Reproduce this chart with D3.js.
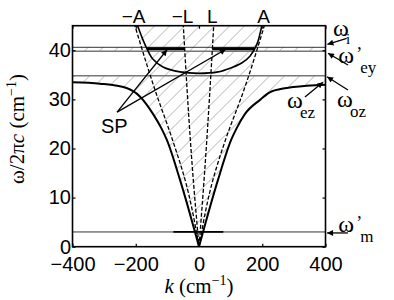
<!DOCTYPE html>
<html>
<head>
<meta charset="utf-8">
<script src="https://cdn.jsdelivr.net/npm/d3@7"></script>
<style>
  body { margin: 0; background: #fff; }
</style>
</head>
<body>
<div id="chart"></div>
<script>
// axes
const kTicks = [-400, -200, 0, 200, 400]
const wTicks = [0, 10, 20, 30, 40]

// lower polariton branch, left and right halves (k in cm-1, w in cm-1)
const lowLeftK = [-400, -313, -229, -187, -145, -118, -102, -60, 0]
const lowLeftW = [33.5, 33.2, 32.3, 30.6, 27.0, 24.0, 21.8, 13.6, 0]
const lowRightK = [0, 60, 102, 118, 145, 193, 229, 298, 400]
const lowRightW = [0, 13.6, 21.8, 24.0, 27.0, 29.9, 31.6, 32.5, 33.0]

// upper branch (U shape)
const upK = [-197, -171, -146, -114, -60, 0, 60, 100, 135, 161, 183, 200]
const upW = [45.5, 41.2, 38.2, 36.6, 35.6, 35.3, 35.6, 36.4, 37.4, 38.8, 41.2, 45.5]

// A and L lines (dashed)
const aLeftK = [-205, -139, -84, -44, 0]
const aRightK = [0, 44, 84, 142, 209]
const aW = [45.5, 31.9, 21.8, 13.6, 0]
const aWr = [0, 13.6, 21.8, 31.9, 45.5]
const lLeftK = [-50, -18, 0]
const lRightK = [0, 16, 47]
const lW = [45.5, 13.6, 0]
const lWr = [0, 13.6, 45.5]

// horizontal levels
const wI = 40.6, wEy = 39.8, wOz = 34.8, wM = 3.0
const spW = 40.3
const spSegK = [[-164, -44], [42, 174]]
const mSegK = [-81, 77]

const topLabels = ["−A", "−L", "L", "A"]
const topLabelK = [-207, -52, 42, 204]

const margin = {top: 25.7, right: 68.5, bottom: 53.3, left: 72.5}
const W = 394, H = 300
const width = W - margin.left - margin.right
const height = H - margin.top - margin.bottom

const svg = d3.select("#chart").append("svg")
    .attr("width", W)
    .attr("height", H)
    .style("font-family", "'Liberation Sans', Arial, sans-serif")

const x = d3.scaleLinear().domain([-400, 400]).range([margin.left, margin.left + width])
const y = d3.scaleLinear().domain([0, 45]).range([margin.top + height, margin.top])

const defs = svg.append("defs")
defs.append("clipPath").attr("id", "plotclip")
  .append("rect")
    .attr("x", margin.left).attr("y", margin.top)
    .attr("width", width).attr("height", height)

const pat = defs.append("pattern")
    .attr("id", "hatch")
    .attr("patternUnits", "userSpaceOnUse")
    .attr("width", 10.6).attr("height", 10.6)
    .attr("patternTransform", "rotate(45)")
pat.append("line")
    .attr("x1", 0).attr("y1", 0).attr("x2", 0).attr("y2", 10.6)
    .attr("stroke", "#6e6e6e").attr("stroke-width", 0.8)

defs.append("marker")
    .attr("id", "arr")
    .attr("viewBox", "0 0 10 10")
    .attr("refX", 10).attr("refY", 5)
    .attr("markerWidth", 8).attr("markerHeight", 6)
    .attr("markerUnits", "userSpaceOnUse")
    .attr("orient", "auto")
  .append("path").attr("d", "M0,0L10,5L0,10z").attr("fill", "#000")

const pts = (ks, ws) => ks.map((k, i) => [k, ws[i]])
const line = d3.line().x(d => x(d[0])).y(d => y(d[1]))
const smooth = d3.line().x(d => x(d[0])).y(d => y(d[1])).curve(d3.curveMonotoneX)

// hatched regions: union as clip path
const hclip = defs.append("clipPath").attr("id", "hclip")
hclip.append("path")
    .attr("d", line(pts(aLeftK, aW).concat(pts(aRightK, aWr).slice(1))) + "Z")
hclip.append("rect")
    .attr("x", x(-400)).attr("y", y(wI))
    .attr("width", width).attr("height", y(wEy) - y(wI))
const bandArea = d3.area().x(d => x(d[0])).y0(d => y(d[1])).y1(y(wOz)).curve(d3.curveMonotoneX)
hclip.append("path").attr("d", bandArea(pts(lowLeftK, lowLeftW)))
hclip.append("path").attr("d", bandArea(pts(lowRightK, lowRightW)))

const plot = svg.append("g").attr("clip-path", "url(#plotclip)")

plot.append("rect")
    .attr("clip-path", "url(#hclip)")
    .attr("x", margin.left).attr("y", margin.top)
    .attr("width", width).attr("height", height)
    .attr("fill", "url(#hatch)")

// horizontal levels
const levels = [
  {w: wI, c: "#000", sw: 0.8},
  {w: wEy, c: "#777", sw: 1.3},
  {w: wOz, c: "#777", sw: 1.6},
  {w: wM, c: "#000", sw: 0.8}
]
plot.selectAll(".lev").data(levels).enter().append("line")
    .attr("x1", x(-400)).attr("x2", x(400))
    .attr("y1", d => y(d.w)).attr("y2", d => y(d.w))
    .attr("stroke", d => d.c).attr("stroke-width", d => d.sw)

// dashed A and L lines
const dashed = [pts(aLeftK, aW), pts(aRightK, aWr), pts(lLeftK, lW), pts(lRightK, lWr)]
plot.selectAll(".dash").data(dashed).enter().append("path")
    .attr("d", d => d3.line().x(p => x(p[0])).y(p => y(p[1])).curve(d3.curveMonotoneY)(d))
    .attr("fill", "none").attr("stroke", "#000")
    .attr("stroke-width", 1.3).attr("stroke-dasharray", "4,2")

// lower branch
plot.selectAll(".low").data([pts(lowLeftK, lowLeftW), pts(lowRightK, lowRightW)]).enter().append("path")
    .attr("d", smooth)
    .attr("fill", "none").attr("stroke", "#000").attr("stroke-width", 2)

// upper U branch
plot.append("path")
    .attr("d", d3.line().x(d => x(d[0])).y(d => y(d[1])).curve(d3.curveCatmullRom)(pts(upK, upW)))
    .attr("fill", "none").attr("stroke", "#000").attr("stroke-width", 1.6)

// surface modes (thick)
plot.selectAll(".sp").data(spSegK).enter().append("line")
    .attr("x1", d => x(d[0])).attr("x2", d => x(d[1]))
    .attr("y1", y(spW)).attr("y2", y(spW))
    .attr("stroke", "#000").attr("stroke-width", 3)
plot.append("line")
    .attr("x1", x(mSegK[0])).attr("x2", x(mSegK[1]))
    .attr("y1", y(wM)).attr("y2", y(wM))
    .attr("stroke", "#000").attr("stroke-width", 1.8)

// frame
svg.append("rect")
    .attr("x", margin.left).attr("y", margin.top)
    .attr("width", width).attr("height", height)
    .attr("fill", "none").attr("stroke", "#000").attr("stroke-width", 1.6)

// axes
const gx = svg.append("g").attr("transform", "translate(0," + (margin.top + height) + ")")
    .call(d3.axisBottom(x).tickValues(kTicks).tickSize(-3).tickPadding(10))
const gy = svg.append("g").attr("transform", "translate(" + margin.left + ",0)")
    .call(d3.axisLeft(y).tickValues(wTicks).tickSize(-3).tickPadding(1.5))
svg.append("g").attr("transform", "translate(0," + margin.top + ")")
    .call(d3.axisTop(x).tickValues(kTicks).tickSize(-3).tickFormat(""))
svg.append("g").attr("transform", "translate(" + (margin.left + width) + ",0)")
    .call(d3.axisRight(y).tickValues(wTicks).tickSize(-3).tickFormat(""))
svg.selectAll(".domain").remove()
svg.selectAll(".tick line").attr("stroke-width", 1.2)
svg.selectAll(".tick text")
    .style("font-family", "'Liberation Sans', Arial, sans-serif")
    .style("font-size", "20px").attr("fill", "#000")

// top labels
svg.selectAll(".toplab").data(topLabels).enter().append("text")
    .attr("x", (d, i) => x(topLabelK[i])).attr("y", 23)
    .attr("text-anchor", "middle")
    .style("font-size", "19px")
    .text(d => d)

// axis titles
const serif = "'Liberation Serif', 'Times New Roman', serif"
const xt = svg.append("text")
    .attr("x", x(0)).attr("y", 293)
    .attr("text-anchor", "middle")
    .style("font-family", serif).style("font-size", "21px")
xt.append("tspan").style("font-style", "italic").text("k")
xt.append("tspan").text(" (cm")
xt.append("tspan").attr("dy", -8).style("font-size", "14px").text("−1")
xt.append("tspan").attr("dy", 8).text(")")

const yt = svg.append("text")
    .attr("transform", "translate(24,129) rotate(-90)")
    .attr("text-anchor", "middle")
    .style("font-family", serif).style("font-size", "21px")
yt.append("tspan").text("ω/2π")
yt.append("tspan").style("font-style", "italic").text("c")
yt.append("tspan").text(" (cm")
yt.append("tspan").attr("dy", -8).style("font-size", "14px").text("−1")
yt.append("tspan").attr("dy", 8).text(")")

// arrows (data coords)
const arrows = [
  {from: [467, 42.4], to: [406, 41.2]},
  {from: [471, 37.0], to: [408, 39.4]},
  {from: [471, 31.9], to: [405, 34.6]},
  {from: [335, 30.5], to: [392, 33.5]},
  {from: [471, 2.8], to: [405, 2.8]},
  {from: [-259, 27.4], to: [-101, 40.1]},
  {from: [-259, 27.4], to: [85, 40.2]}
]
svg.selectAll(".arrow").data(arrows).enter().append("line")
    .attr("x1", d => x(d.from[0])).attr("y1", d => y(d.from[1]))
    .attr("x2", d => x(d.to[0])).attr("y2", d => y(d.to[1]))
    .attr("stroke", "#000").attr("stroke-width", 1.3)
    .attr("marker-end", "url(#arr)")

// mode labels (data coords of the omega glyph, subscripts offset)
const modeLabels = [
  {k: 424, w: 42.9, sub: "i", prime: false},
  {k: 440, w: 37.4, sub: "ey", prime: true},
  {k: 436, w: 28.4, sub: "oz", prime: false},
  {k: 278, w: 28.2, sub: "ez", prime: false},
  {k: 440, w: 3.0, sub: "m", prime: true}
]
modeLabels.forEach(d => {
  const g = svg.append("g").style("font-family", serif)
  g.append("text").attr("x", x(d.k)).attr("y", y(d.w))
    .style("font-size", "24px").text("ω")
  if (d.prime) {
    g.append("text").attr("x", x(d.k) + 18).attr("y", y(d.w) - 3)
      .style("font-size", "18px").text("’")
  }
  g.append("text").attr("x", x(d.k) + (d.prime ? 22 : 13)).attr("y", y(d.w) + (d.sub === "i" ? 8 : 10))
    .style("font-size", d.sub === "i" ? "15px" : "17px").text(d.sub)
})

svg.append("text")
    .attr("x", x(-268)).attr("y", y(23.1))
    .attr("text-anchor", "middle")
    .style("font-size", "20px")
    .text("SP")
</script>
</body>
</html>
